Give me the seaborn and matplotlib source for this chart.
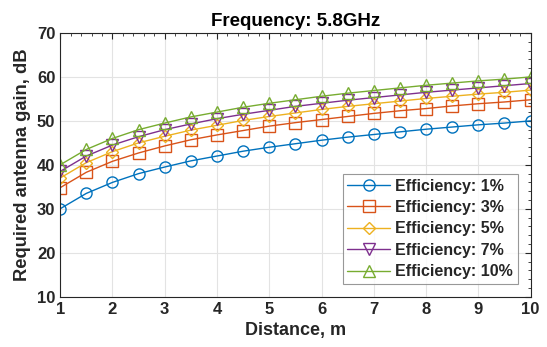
import numpy as np
import pandas as pd
import matplotlib.pyplot as plt
import seaborn as sns
from matplotlib.ticker import AutoMinorLocator

# Valores
distance = [1, 1.5, 2, 2.5, 3, 3.5, 4, 4.5, 5, 5.5, 6, 6.5, 7, 7.5, 8, 8.5, 9, 9.5, 10]
eff_1 = [30.0, 33.5, 36.0, 38.0, 39.5, 40.9, 42.0, 43.1, 44.0, 44.8, 45.6, 46.3, 46.9, 47.5, 48.1, 48.6, 49.1, 49.5, 50.0]
eff_3 = [34.8, 38.3, 40.8, 42.7, 44.3, 45.7, 46.8, 47.8, 48.8, 49.6, 50.3, 51.0, 51.7, 52.3, 52.8, 53.4, 53.9, 54.3, 54.8]
eff_5 = [37.0, 40.5, 43.0, 45.0, 46.5, 47.9, 49.0, 50.1, 51.0, 51.8, 52.6, 53.3, 53.9, 54.5, 55.1, 55.6, 56.1, 56.5, 57.0]
eff_7 = [38.5, 42.0, 44.5, 46.4, 48.0, 49.3, 50.5, 51.5, 52.4, 53.3, 54.0, 54.7, 55.3, 55.9, 56.5, 57.0, 57.5, 58.0, 58.5]
eff_10 = [40.0, 43.5, 46.0, 48.0, 49.5, 50.9, 52.0, 53.1, 54.0, 54.8, 55.6, 56.3, 56.9, 57.5, 58.1, 58.6, 59.1, 59.5, 60.0]

labels = ["Efficiency: 1%", "Efficiency: 3%", "Efficiency: 5%", "Efficiency: 7%", "Efficiency: 10%"]
series = [eff_1, eff_3, eff_5, eff_7, eff_10]
colors = ["#0072BD", "#D95319", "#EDB120", "#7E2F8E", "#77AC30"]
markers = ["o", "s", "D", "v", "^"]

sns.set_style("white")
plt.rcParams["font.family"] = ["Liberation Sans", "DejaVu Sans"]
plt.rcParams["font.weight"] = "bold"

fig, ax = plt.subplots(figsize=(5.47, 3.47), dpi=100)

for lab, vals, c, m in zip(labels, series, colors, markers):
    df = pd.DataFrame({"Distance": distance, "Gain": vals})
    ms = 6 if m == "D" else 8
    sns.lineplot(data=df, x="Distance", y="Gain", ax=ax, color=c, marker=m,
                 markersize=ms, markerfacecolor="none", markeredgecolor=c,
                 markeredgewidth=1.0, linewidth=1.0, label=lab)

ax.set_xlim(1, 10)
ax.set_ylim(10, 70)
ax.set_xticks(range(1, 11))
ax.set_yticks(range(10, 71, 10))
ax.xaxis.set_minor_locator(AutoMinorLocator(5))
ax.yaxis.set_minor_locator(AutoMinorLocator(5))
ax.tick_params(which="both", direction="in", top=True, right=True, colors="#262626",
               labelcolor="#262626", labelsize=12)
ax.tick_params(which="major", length=4)
ax.tick_params(which="minor", length=2)
ax.grid(True, which="major", color="#e3e3e3", linewidth=0.8)
for s in ax.spines.values():
    s.set_color("#262626")
    s.set_linewidth(0.8)

ax.set_xlabel("Distance, m", fontsize=13, fontweight="bold", color="#262626")
ax.set_ylabel("Required antenna gain, dB", fontsize=13.2, fontweight="bold", color="#262626")
ax.set_title("Frequency: 5.8GHz", fontsize=13.5, fontweight="bold", color="black", pad=5)

leg = ax.legend(loc="lower right", fontsize=11.5, frameon=True, fancybox=False,
                edgecolor="#7f7f7f", handlelength=2.7, borderpad=0.3,
                labelspacing=0.4, handletextpad=0.3, borderaxespad=0.8)
leg.get_frame().set_linewidth(0.8)

plt.subplots_adjust(left=0.11, right=0.97, bottom=0.145, top=0.905)
plt.savefig("out.png", dpi=100)
